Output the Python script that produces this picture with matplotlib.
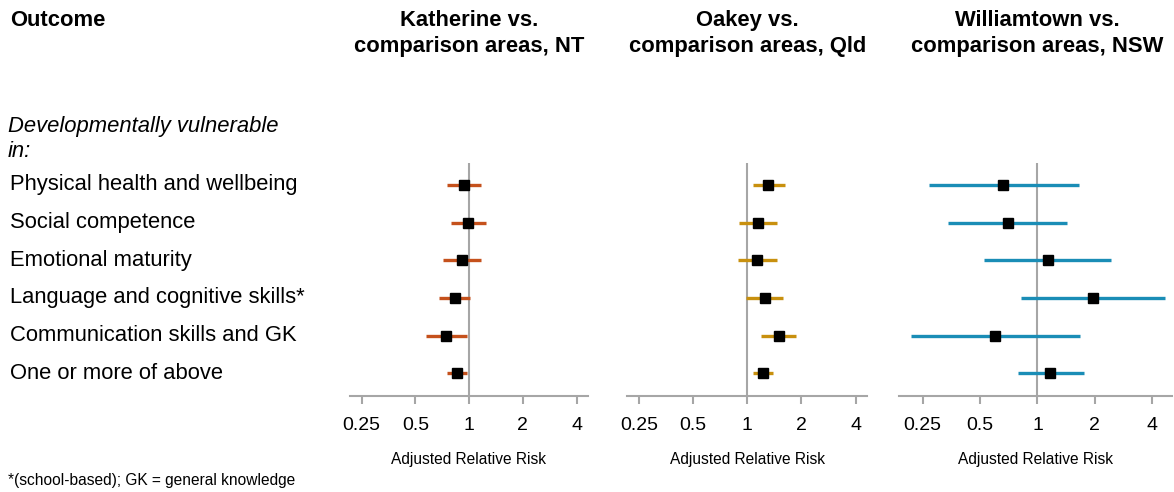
import numpy as np
import matplotlib.pyplot as plt

plt.rcParams['font.family'] = ['Liberation Sans', 'DejaVu Sans']

outcomes = ['Physical health and wellbeing', 'Social competence', 'Emotional maturity',
            'Language and cognitive skills*', 'Communication skills and GK', 'One or more of above']

titles = ['Katherine vs.\ncomparison areas, NT',
          'Oakey vs.\ncomparison areas, Qld',
          'Williamtown vs.\ncomparison areas, NSW']

# adjusted relative risk with 95% CI
kath_rr = [0.93, 0.98, 0.91, 0.83, 0.74, 0.85]
kath_lo = [0.75, 0.79, 0.71, 0.68, 0.57, 0.75]
kath_hi = [1.17, 1.24, 1.16, 1.01, 0.97, 0.975]

oakey_rr = [1.31, 1.15, 1.14, 1.25, 1.50, 1.22]
oakey_lo = [1.08, 0.90, 0.89, 0.99, 1.19, 1.08]
oakey_hi = [1.62, 1.46, 1.46, 1.58, 1.87, 1.40]

wt_rr = [0.66, 0.70, 1.13, 1.96, 0.60, 1.17]
wt_lo = [0.27, 0.34, 0.525, 0.82, 0.216, 0.79]
wt_hi = [1.65, 1.43, 2.42, 4.66, 1.67, 1.75]

ticks = [0.25, 0.5, 1, 2, 4]
tick_labels = ['0.25', '0.5', '1', '2', '4']

colors = ['#C5511C', '#C8900E', '#1A8DB6']
panels = [(kath_rr, kath_lo, kath_hi), (oakey_rr, oakey_lo, oakey_hi), (wt_rr, wt_lo, wt_hi)]

W, H = 1174, 492
fig = plt.figure(figsize=(W / 100, H / 100), dpi=100)

# pixel extents of each panel (left, right) and x-limits
extents = [(350, 588, (0.215, 4.63)), (627, 867, (0.215, 4.63)), (899, 1172, (0.188, 5.07))]
top_px, bot_px = 163, 396
ypos = np.arange(len(outcomes), 0, -1)
grey = '#A6A6A6'

for (rr, lo, hi), col, (l, r, xl), title in zip(panels, colors, extents, titles):
    ax = fig.add_axes([l / W, 1 - bot_px / H, (r - l) / W, (bot_px - top_px) / H])
    ax.set_xscale('log', base=2)
    ax.set_xlim(*xl)
    ax.set_ylim(0.4, 6.58)
    ax.axvline(1, color=grey, lw=1.5, zorder=1)
    rr, lo, hi = map(np.array, (rr, lo, hi))
    ax.hlines(ypos, lo, hi, color=col, lw=2.4, zorder=2)
    ax.plot(rr, ypos, 's', color='black', ms=7.2, zorder=3)
    for s in ['top', 'right', 'left']:
        ax.spines[s].set_visible(False)
    ax.spines['bottom'].set_color(grey)
    ax.spines['bottom'].set_linewidth(1.5)
    ax.set_yticks([])
    ax.set_xticks(ticks)
    ax.set_xticklabels(tick_labels)
    ax.xaxis.set_minor_locator(plt.NullLocator())
    ax.tick_params(axis='x', colors=grey, labelcolor='black', labelsize=14,
                   length=6, width=1.5, pad=9)
    ax.set_xlabel('Adjusted Relative Risk', fontsize=11.2, labelpad=13)
    # titles centred on the RR = 1 reference line
    cx = fig.transFigure.inverted().transform(ax.transData.transform((1, 0)))[0]
    fig.text(cx, 1 - 10 / H, title, ha='center', va='top', fontsize=15.8,
             fontweight='bold', linespacing=1.3)

fig.text(10 / W, 1 - 10 / H, 'Outcome', ha='left', va='top', fontsize=15.8, fontweight='bold')
fig.text(8 / W, 1 - 139 / H, 'Developmentally vulnerable\nin:', ha='left', va='center',
         fontsize=15.8, style='italic', linespacing=1.3)
for lab, yp in zip(outcomes, ypos):
    y_px = top_px + (6.58 - yp) / (6.58 - 0.4) * (bot_px - top_px)
    fig.text(10 / W, 1 - y_px / H, lab, ha='left', va='center', fontsize=15.8)

fig.text(8 / W, 1 - 481 / H, '*(school-based); GK = general knowledge', ha='left',
         va='center', fontsize=11.2)

fig.savefig('out.png', dpi=100)
